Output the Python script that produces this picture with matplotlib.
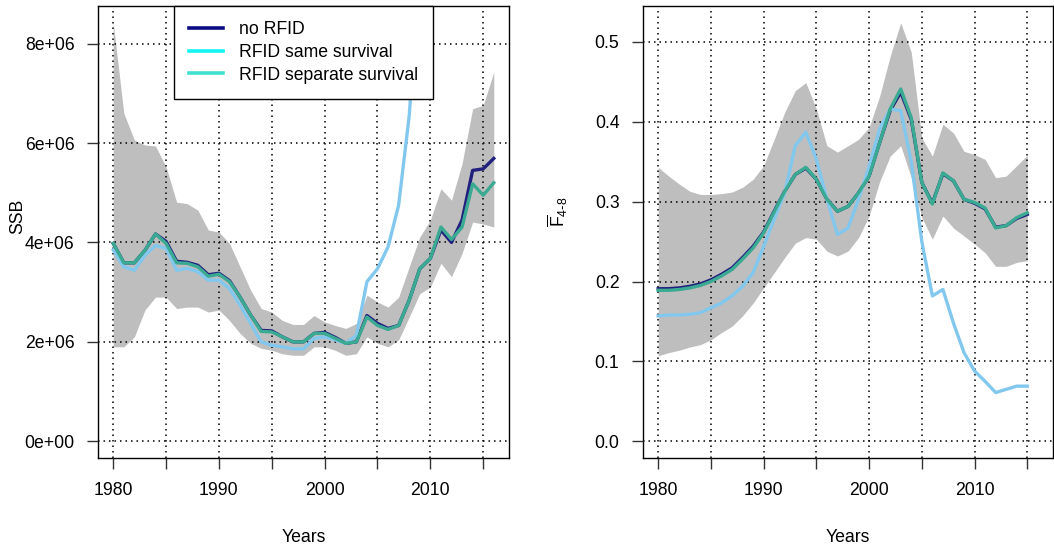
import numpy as np
import matplotlib
matplotlib.use("Agg")
import matplotlib.pyplot as plt
from matplotlib.lines import Line2D

plt.rcParams['font.family'] = ['Liberation Sans', 'DejaVu Sans']
plt.rcParams['mathtext.default'] = 'regular'
plt.rcParams['font.size'] = 12.7

# ---- SSB panel data (tonnes), 1980-2016
years_ssb = np.arange(1980, 2017)
ssb_no_rfid = [3.98, 3.59, 3.59, 3.84, 4.17, 4.02, 3.62, 3.60, 3.54, 3.35,
               3.38, 3.23, 2.90, 2.54, 2.23, 2.22, 2.10, 2.00, 2.00, 2.17,
               2.19, 2.09, 1.97, 2.00, 2.53, 2.37, 2.27, 2.33, 2.84, 3.47,
               3.68, 4.25, 4.00, 4.45, 5.45, 5.48, 5.69]
ssb_same_surv = [3.85, 3.51, 3.44, 3.74, 3.94, 3.88, 3.44, 3.48, 3.41, 3.24,
                 3.24, 3.07, 2.74, 2.37, 2.00, 1.93, 1.90, 1.86, 1.86, 2.07,
                 2.10, 2.04, 1.97, 2.13, 3.21, 3.47, 3.91, 4.75, 6.55, 9.50,
                 12.8, 16.0, 19.5, 23.0, 27.0, 31.0, 35.0]
ssb_sep_surv = [3.98, 3.59, 3.59, 3.84, 4.17, 3.98, 3.59, 3.58, 3.51, 3.32,
                3.36, 3.21, 2.90, 2.54, 2.21, 2.20, 2.10, 2.00, 2.00, 2.17,
                2.17, 2.07, 1.97, 2.00, 2.50, 2.33, 2.25, 2.33, 2.84, 3.47,
                3.68, 4.31, 4.06, 4.31, 5.18, 4.95, 5.20]
ssb_lo = [1.90, 1.90, 2.10, 2.64, 2.90, 2.90, 2.67, 2.70, 2.70, 2.60,
          2.64, 2.43, 2.17, 1.97, 1.87, 1.83, 1.76, 1.73, 1.73, 1.90,
          1.90, 1.83, 1.73, 1.76, 2.10, 1.97, 1.90, 2.04, 2.50, 2.97,
          3.10, 3.58, 3.31, 3.78, 4.41, 4.37, 4.31]
ssb_hi = [8.42, 6.60, 6.06, 5.96, 5.94, 5.52, 4.81, 4.78, 4.65, 4.25,
          4.21, 3.98, 3.51, 3.04, 2.67, 2.60, 2.43, 2.35, 2.35, 2.53,
          2.40, 2.33, 2.27, 2.37, 2.94, 2.80, 2.70, 2.90, 3.51, 4.11,
          4.45, 5.08, 4.85, 5.59, 6.69, 6.76, 7.43]

# ---- mean F (ages 4-8), 1980-2015
years_f = np.arange(1980, 2016)
f_no_rfid = [0.191, 0.191, 0.192, 0.194, 0.197, 0.202, 0.209, 0.217, 0.230, 0.244,
             0.262, 0.288, 0.313, 0.334, 0.342, 0.328, 0.303, 0.288, 0.294, 0.311,
             0.332, 0.374, 0.414, 0.437, 0.403, 0.324, 0.298, 0.335, 0.326, 0.303,
             0.298, 0.291, 0.268, 0.270, 0.279, 0.284]
f_same_surv = [0.157, 0.158, 0.158, 0.159, 0.161, 0.167, 0.173, 0.182, 0.194, 0.211,
               0.244, 0.278, 0.311, 0.370, 0.387, 0.353, 0.303, 0.259, 0.267, 0.303,
               0.344, 0.391, 0.416, 0.414, 0.350, 0.250, 0.182, 0.190, 0.148, 0.111,
               0.088, 0.075, 0.061, 0.065, 0.069, 0.069]
f_sep_surv = [0.189, 0.189, 0.190, 0.192, 0.195, 0.200, 0.207, 0.215, 0.228, 0.242,
              0.261, 0.287, 0.313, 0.334, 0.343, 0.328, 0.303, 0.288, 0.294, 0.311,
              0.332, 0.374, 0.416, 0.441, 0.405, 0.324, 0.297, 0.336, 0.326, 0.303,
              0.299, 0.292, 0.267, 0.270, 0.280, 0.286]
f_lo = [0.107, 0.111, 0.114, 0.118, 0.121, 0.127, 0.136, 0.144, 0.157, 0.173,
        0.192, 0.211, 0.230, 0.248, 0.255, 0.253, 0.238, 0.232, 0.238, 0.255,
        0.282, 0.325, 0.357, 0.370, 0.330, 0.280, 0.253, 0.282, 0.267, 0.257,
        0.247, 0.236, 0.219, 0.219, 0.224, 0.226]
f_hi = [0.343, 0.332, 0.322, 0.313, 0.309, 0.309, 0.310, 0.312, 0.318, 0.328,
        0.345, 0.378, 0.412, 0.439, 0.449, 0.416, 0.370, 0.362, 0.370, 0.378,
        0.393, 0.432, 0.482, 0.524, 0.487, 0.380, 0.357, 0.397, 0.386, 0.363,
        0.359, 0.353, 0.330, 0.332, 0.345, 0.358]

series_names = ["no RFID", "RFID same survival", "RFID separate survival"]
line_cols = ["#22207e", "#82c8ee", "#3aaa92"]
legend_cols = ["#0c0c84", "#12f4f4", "#40e0d0"]
band_col = "#bebebe"
xtick_vals = np.arange(1980, 2016, 5)
xtick_labels = ["1980", "", "1990", "", "2000", "", "2010", ""]

fig = plt.figure(figsize=(10.54, 5.49), dpi=100)
ax1 = fig.add_axes([98/1054, 91/549, 411/1054, 452/549])
ax2 = fig.add_axes([643/1054, 91/549, 410/1054, 452/549])


def r_lim(lo, hi):
    # R style 4% padding
    d = (hi - lo) * 0.04
    return lo - d, hi + d


def style(ax):
    ax.set_axisbelow(False)
    ax.grid(True, linestyle=(0, (1, 2.6)), color="black", lw=1.1)
    ax.tick_params(direction="out", length=8, width=1, color="#333333")
    ax.tick_params(axis="x", pad=9)
    ax.tick_params(axis="y", pad=9)
    for s in ax.spines.values():
        s.set_linewidth(1.0)
    ax.set_xticks(xtick_vals)
    ax.set_xticklabels(xtick_labels)
    ax.set_xlim(r_lim(1980, 2016))
    ax.set_xlabel("Years")
    ax.xaxis.set_label_coords(0.5, -0.175)
    ax.xaxis.label.set_va("center")


# ---- left: SSB
sc = 1e6
ax1.fill_between(years_ssb, np.array(ssb_lo)*sc, np.array(ssb_hi)*sc,
                 color=band_col, lw=0, zorder=1)
for vals, c in zip([ssb_no_rfid, ssb_same_surv, ssb_sep_surv], line_cols):
    ax1.plot(years_ssb, np.array(vals)*sc, color=c, lw=2.4, zorder=3)
style(ax1)
ax1.set_ylim(r_lim(0, max(ssb_hi)*sc))
ax1.set_yticks(np.arange(0, 9e6, 2e6))
ax1.set_yticklabels(["{:.0e}".format(v) for v in np.arange(0, 9e6, 2e6)])
ax1.set_ylabel("SSB")
ax1.yaxis.set_label_coords(-0.195, 0.535)
ax1.yaxis.label.set_va("center")

handles = [Line2D([], [], color=c, lw=2.6) for c in legend_cols]
leg = ax1.legend(handles, series_names, loc="upper center", borderaxespad=0,
                 fancybox=False, framealpha=1, edgecolor="black",
                 handlelength=1.95, handletextpad=0.9, labelspacing=0.33,
                 borderpad=0.85)
leg.get_frame().set_linewidth(1.0)
leg.set_zorder(5)

# ---- right: F
ax2.fill_between(years_f, f_lo, f_hi, color=band_col, lw=0, zorder=1)
for vals, c in zip([f_no_rfid, f_same_surv, f_sep_surv], line_cols):
    ax2.plot(years_f, vals, color=c, lw=2.4, zorder=3)
style(ax2)
ax2.set_ylim(r_lim(0, max(f_hi)))
ax2.set_yticks(np.arange(0, 0.51, 0.1))
ax2.set_yticklabels(["{:.1f}".format(v) for v in np.arange(0, 0.51, 0.1)])
ax2.set_ylabel(r"$\overline{F}_{4\text{-}8}$")
ax2.yaxis.set_label_coords(-0.207, 0.545)
ax2.yaxis.label.set_va("center")

fig.savefig("out.png", dpi=100)
